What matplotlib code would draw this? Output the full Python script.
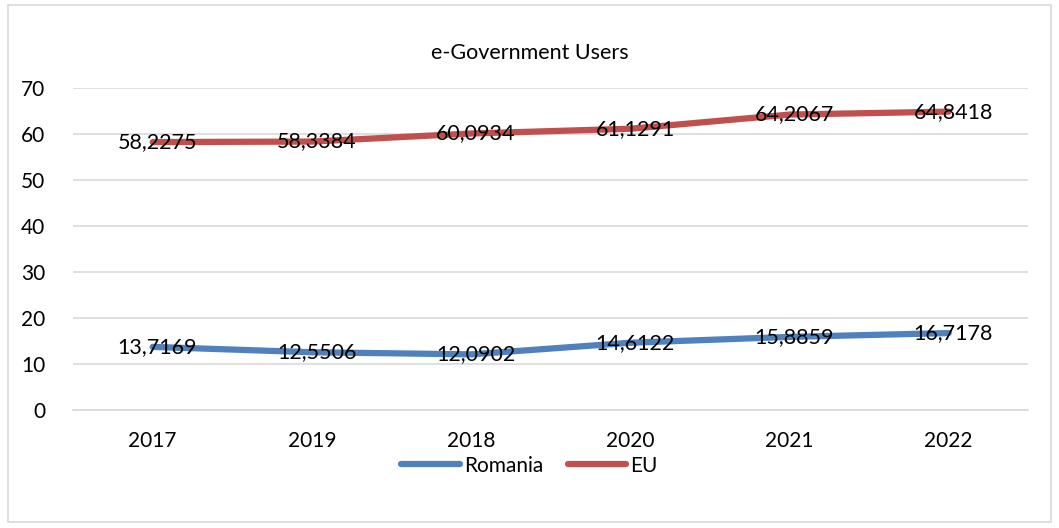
import matplotlib.pyplot as plt
from matplotlib.patches import Rectangle

years = ["2017", "2019", "2018", "2020", "2021", "2022"]
romania = [13.7169, 12.5506, 12.0902, 14.6122, 15.8859, 16.7178]
eu = [58.2275, 58.3384, 60.0934, 61.1291, 64.2067, 64.8418]

plt.rcParams["font.family"] = ["Lato", "DejaVu Sans"]

fig = plt.figure(figsize=(10.59, 5.28), dpi=100)
fig.patches.append(Rectangle((0.008, 0.012), 0.984, 0.978, transform=fig.transFigure,
                             fill=False, edgecolor="#D9D9D9", linewidth=1.2))
ax = fig.add_axes([0.069, 0.2235, 0.902, 0.61])

x = list(range(len(years)))
ax.plot(x, romania, color="#4F81BD", linewidth=4.5, solid_capstyle="round", label="Romania")
ax.plot(x, eu, color="#C0504D", linewidth=4.5, solid_capstyle="round", label="EU")

for xi, v in zip(x, romania):
    ax.text(xi + 0.03, v, f"{v:.4f}".replace(".", ","), ha="center", va="center", fontsize=15.5)
for xi, v in zip(x, eu):
    ax.text(xi + 0.03, v, f"{v:.4f}".replace(".", ","), ha="center", va="center", fontsize=15.5)

ax.set_xlim(-0.5, len(years) - 0.5)
ax.set_ylim(0, 70)
ax.set_yticks(range(0, 71, 10))
ax.set_xticks(x)
ax.set_xticklabels(years)
ax.tick_params(length=0, labelsize=15)
ax.tick_params(axis="x", pad=15)
ax.tick_params(axis="y", pad=20)
ax.grid(axis="y", color="#D9D9D9", linewidth=1.2)
ax.set_axisbelow(True)
for s in ["top", "right", "left"]:
    ax.spines[s].set_visible(False)
ax.spines["bottom"].set_color("#D9D9D9")
ax.spines["bottom"].set_linewidth(1.2)

fig.text(0.5, 0.9, "e-Government Users", ha="center", va="center", fontsize=15.5)
fig.legend(loc="center", bbox_to_anchor=(0.5, 0.118), ncol=2, frameon=False,
           fontsize=15, handlelength=2.8, handletextpad=0.2, columnspacing=1.2)

fig.savefig("out.png", dpi=100)
